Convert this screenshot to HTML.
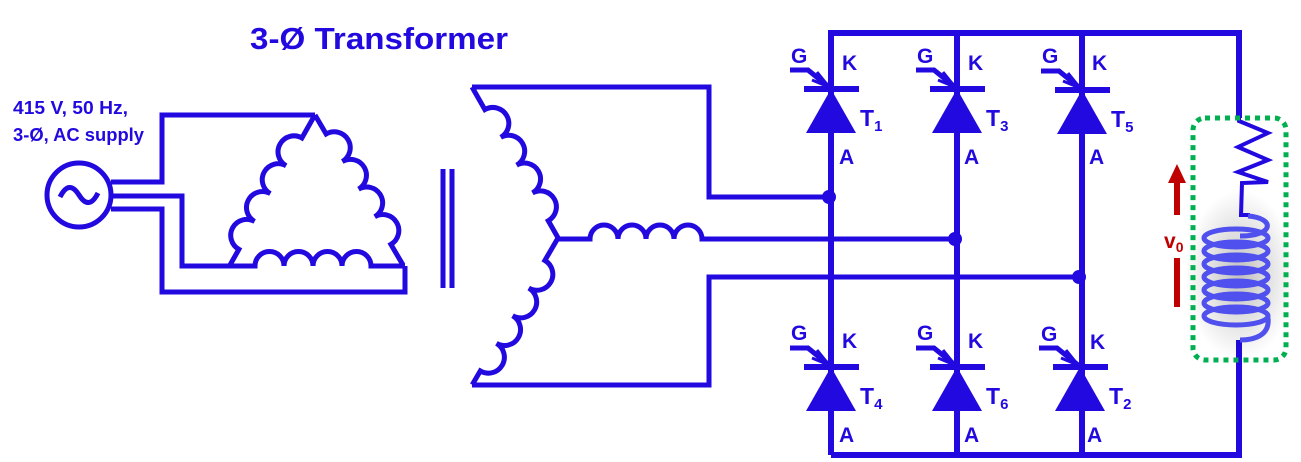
<!DOCTYPE html>
<html><head><meta charset="utf-8"><style>
html,body{margin:0;padding:0;background:#fff;}
svg{display:block;}
text{font-family:"Liberation Sans",sans-serif;font-weight:bold;fill:#2109e0;}
</style></head><body>
<svg width="1301" height="462" viewBox="0 0 1301 462" xmlns="http://www.w3.org/2000/svg">
<defs>
<radialGradient id="sh" cx="0.5" cy="0.5" r="0.5"><stop offset="0" stop-color="#000" stop-opacity="0.25"/><stop offset="1" stop-color="#000" stop-opacity="0"/></radialGradient>
</defs>
<text x="250" y="49" font-size="31" textLength="258" lengthAdjust="spacingAndGlyphs">3-Ø Transformer</text>
<text x="13" y="114" font-size="18" textLength="115" lengthAdjust="spacingAndGlyphs">415 V, 50 Hz,</text>
<text x="13" y="141" font-size="18" textLength="131" lengthAdjust="spacingAndGlyphs">3-Ø, AC supply</text>

<g fill="none" stroke="#2109e0" stroke-width="5" stroke-linejoin="miter">
<circle cx="79" cy="195" r="32"/>
<path d="M60,197 q9,-18 19,-2 q10,16 19,-2"/>
<polyline points="111,182 162,182 162,115 315,115"/>
<polyline points="111,196 182,196 182,266 232,266"/>
<polyline points="111,209 162,209 162,292 405,292 405,266"/>
<g transform="translate(230,265) rotate(-60.5)"><path d="M0,0 L18,0 a16,16 0 0 1 32,0 a16,16 0 0 1 32,0 a16,16 0 0 1 32,0 a16,16 0 0 1 32,0 L172,0"/></g>
<g transform="translate(315,115) rotate(59.6)"><path d="M0,0 L22,0 a16,16 0 0 1 32,0 a16,16 0 0 1 32,0 a16,16 0 0 1 32,0 a16,16 0 0 1 32,0 L174,0"/></g>
<g transform="translate(230,266)"><path d="M0,0 L25,0 a14.5,14.5 0 0 1 29,0 a14.5,14.5 0 0 1 29,0 a14.5,14.5 0 0 1 29,0 a14.5,14.5 0 0 1 29,0 L175,0"/></g>
<line x1="443" y1="169" x2="443" y2="288"/>
<line x1="452" y1="169" x2="452" y2="288"/>
<g transform="translate(472,87) rotate(60.3)"><path d="M0,0 L26,0 a16,16 0 0 1 32,0 a16,16 0 0 1 32,0 a16,16 0 0 1 32,0 a16,16 0 0 1 32,0 L174,0"/></g>
<g transform="translate(558,238) rotate(120.3)"><path d="M0,0 L26,0 a16,16 0 0 1 32,0 a16,16 0 0 1 32,0 a16,16 0 0 1 32,0 a16,16 0 0 1 32,0 L170,0"/></g>
<g transform="translate(558,239)"><path d="M0,0 L32,0 a14,14 0 0 1 28,0 a14,14 0 0 1 28,0 a14,14 0 0 1 28,0 a14,14 0 0 1 28,0 L399,0"/></g>
<polyline points="472,87 709,87 709,197 831,197"/>
<polyline points="472,385 709,385 709,277 1082,277"/>
</g>

<g fill="none" stroke="#2109e0" stroke-width="6">
<polyline points="831,455 831,33 1239,33 1239,118"/>
<polyline points="831,455 1239,455 1239,340"/>
<line x1="957" y1="33" x2="957" y2="455"/>
<line x1="1082" y1="33" x2="1082" y2="455"/>
</g>
<g fill="#2109e0">
<circle cx="829" cy="197" r="7"/><circle cx="955" cy="239" r="7"/><circle cx="1079" cy="277" r="7"/>
</g>

<g id="thy">
<line x1="804" y1="89" x2="859" y2="89" stroke="#2109e0" stroke-width="6"/>
<polygon points="831,89 806,133 856,133" fill="#2109e0"/>
<polyline points="790,70 808,70 829,87" fill="none" stroke="#2109e0" stroke-width="5"/>
<polyline points="817,72 829,87 812,80" fill="none" stroke="#2109e0" stroke-width="3"/>
</g>
<use href="#thy" transform="translate(126,0)"/>
<use href="#thy" transform="translate(251,1)"/>
<use href="#thy" transform="translate(0,278)"/>
<use href="#thy" transform="translate(126,278)"/>
<use href="#thy" transform="translate(249,278)"/>

<g font-size="21">
<text x="791" y="63">G</text><text x="842" y="70">K</text><text x="839" y="164">A</text>
<text x="917" y="63">G</text><text x="968" y="70">K</text><text x="964" y="164">A</text>
<text x="1042" y="63">G</text><text x="1092" y="70">K</text><text x="1089" y="164">A</text>
<text x="791" y="340">G</text><text x="842" y="348">K</text><text x="839" y="442">A</text>
<text x="917" y="340">G</text><text x="968" y="348">K</text><text x="964" y="442">A</text>
<text x="1041" y="341">G</text><text x="1090" y="349">K</text><text x="1087" y="442">A</text>
<text x="860" y="126" font-size="23">T<tspan font-size="15" dy="5">1</tspan></text>
<text x="986" y="126" font-size="23">T<tspan font-size="15" dy="5">3</tspan></text>
<text x="1111" y="127" font-size="23">T<tspan font-size="15" dy="5">5</tspan></text>
<text x="860" y="404" font-size="23">T<tspan font-size="15" dy="5">4</tspan></text>
<text x="986" y="404" font-size="23">T<tspan font-size="15" dy="5">6</tspan></text>
<text x="1109" y="404" font-size="23">T<tspan font-size="15" dy="5">2</tspan></text>
</g>

<ellipse cx="1240" cy="275" rx="55" ry="85" fill="url(#sh)"/>
<polyline points="1239,116 1239,121 1268,133 1238,147 1268,160 1238,172 1268,182 1242,183 1241,215 1250,215" fill="none" stroke="#2109e0" stroke-width="4"/>
<g fill="none" stroke="#5050ee" stroke-width="5">
<path d="M1248,216 C1275,218 1275,236 1240,236"/>
<ellipse cx="1236" cy="238" rx="32" ry="9"/>
<ellipse cx="1236" cy="251" rx="32" ry="9"/>
<ellipse cx="1236" cy="264" rx="32" ry="9"/>
<ellipse cx="1236" cy="277" rx="32" ry="9"/>
<ellipse cx="1236" cy="290" rx="32" ry="9"/>
<ellipse cx="1236" cy="303" rx="32" ry="9"/>
<ellipse cx="1236" cy="316" rx="32" ry="9"/>
<path d="M1268,318 C1270,335 1255,340 1240,340"/>
</g>
<rect x="1193" y="118" width="93" height="242" rx="12" fill="none" stroke="#00b050" stroke-width="5" stroke-dasharray="5 5"/>
<polygon points="1168,183 1177,164 1186,183" fill="#c00000"/>
<rect x="1174" y="182" width="6" height="33" fill="#c00000"/>
<rect x="1174" y="258" width="6" height="49" fill="#c00000"/>
<text x="1164" y="248" font-size="21" style="fill:#c00000">v<tspan font-size="14" dy="4">0</tspan></text>
</svg>
</body></html>
